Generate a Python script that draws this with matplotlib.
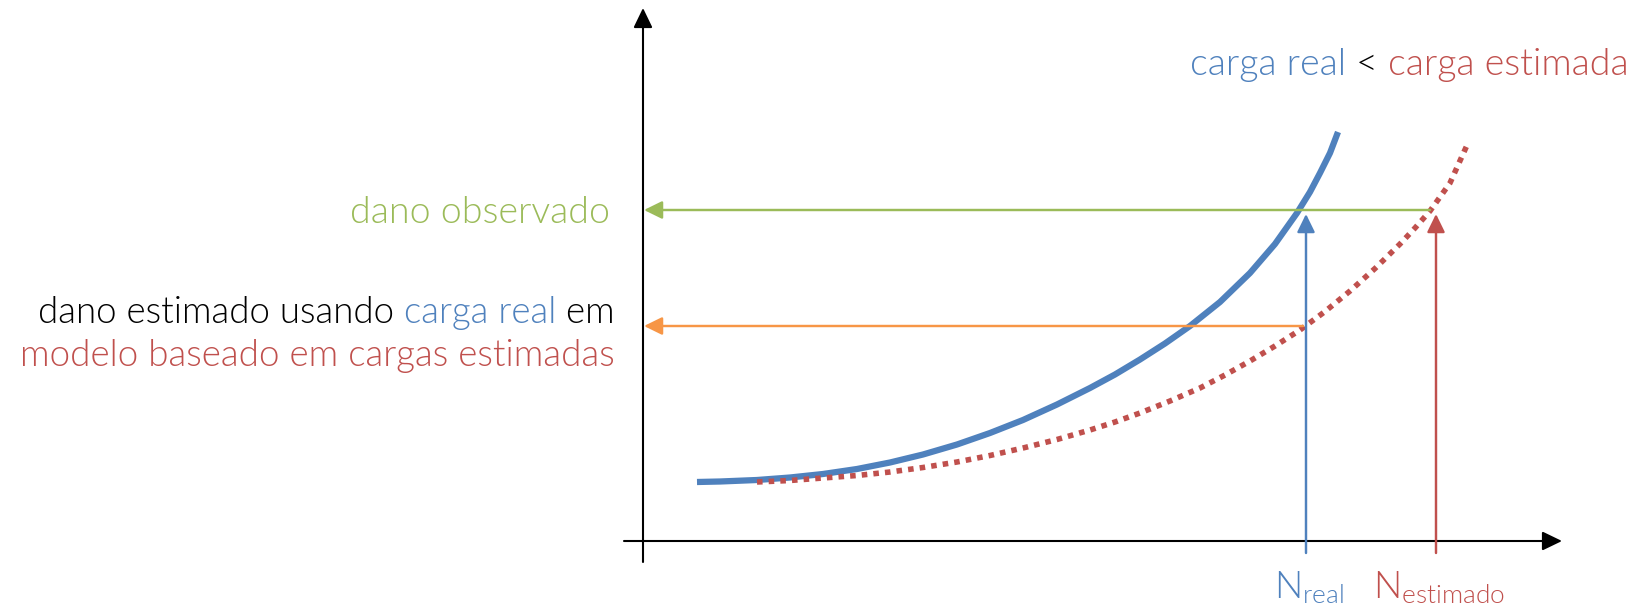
import matplotlib
matplotlib.use('Agg')
import matplotlib.pyplot as plt

# curves (abstract units, origin at the axes crossing)
real_x = [0.54, 0.77, 1.14, 1.47, 1.80, 2.14, 2.47, 2.80, 3.14, 3.47, 3.80, 4.14, 4.47,
          4.72, 4.97, 5.22, 5.47, 5.77, 6.07, 6.32, 6.54, 6.67, 6.77, 6.87, 6.95]
real_y = [0.590, 0.595, 0.610, 0.635, 0.670, 0.720, 0.785, 0.865, 0.965, 1.080, 1.210,
          1.365, 1.530, 1.665, 1.815, 1.975, 2.150, 2.390, 2.680, 2.970, 3.280, 3.490,
          3.680, 3.880, 4.090]

est_x = [1.14, 1.47, 1.80, 2.14, 2.47, 2.80, 3.14, 3.47, 3.80, 4.14, 4.47, 4.72, 4.97,
         5.27, 5.57, 5.82, 6.07, 6.32, 6.57, 6.82, 7.07, 7.32, 7.57, 7.72, 7.87, 8.07, 8.25]
est_y = [0.590, 0.605, 0.630, 0.655, 0.690, 0.735, 0.790, 0.855, 0.930, 1.015, 1.110,
         1.190, 1.280, 1.400, 1.530, 1.660, 1.800, 1.950, 2.110, 2.295, 2.500, 2.725,
         2.970, 3.130, 3.300, 3.580, 3.980]

dano_observado = 3.31
dano_estimado = 2.15
n_real = 6.63
n_estimado = 7.93

BLUE = '#4F81BD'
RED = '#C0504D'
GREEN = '#9BBB59'
ORANGE = '#F79646'

plt.rcParams['font.family'] = ['Lato', 'DejaVu Sans']
plt.rcParams['font.weight'] = 300
FS = 27

fig = plt.figure(figsize=(16.4, 6.14), dpi=100)
ax = fig.add_axes([0, 0, 1, 1])
ax.set_xlim(-6.43, 9.97)
ax.set_ylim(-0.73, 5.41)
ax.set_axis_off()

def arrow(x0, y0, x1, y1, color, lw=1.75, hl=0.55, hw=0.27):
    ax.annotate('', xy=(x1, y1), xytext=(x0, y0),
                arrowprops=dict(arrowstyle='-|>,head_length=%s,head_width=%s' % (hl, hw),
                                mutation_scale=20, lw=lw, color=color,
                                shrinkA=0, shrinkB=0))

# axes
arrow(0, -0.21, 0, 5.33, 'black', lw=1.5, hl=0.6, hw=0.29)
arrow(-0.19, 0, 9.19, 0, 'black', lw=1.5, hl=0.6, hw=0.29)

# curves
ax.plot(real_x, real_y, color=BLUE, lw=4.5, solid_capstyle='butt', solid_joinstyle='round')
ax.plot(est_x, est_y, color=RED, lw=4.0, ls=(0, (1, 1.1)), dash_capstyle='butt')

# reading arrows
arrow(n_real, -0.12, n_real, dano_observado - 0.04, BLUE)
arrow(n_estimado, -0.12, n_estimado, dano_observado - 0.04, RED)
arrow(n_estimado - 0.06, dano_observado, 0.01, dano_observado, GREEN)
arrow(n_real - 0.03, dano_estimado, 0.01, dano_estimado, ORANGE)

def chain(x, y, pieces, fs=FS):
    # right aligned pieces of text, drawn from the right end leftwards
    t = ax.text(x, y, pieces[-1][0], color=pieces[-1][1], fontsize=fs,
                ha='right', va='baseline')
    for s, c in reversed(pieces[:-1]):
        t = ax.annotate(s, xy=(0, 0), xycoords=t, color=c, fontsize=fs,
                        ha='right', va='bottom')

chain(9.86, 4.66, [('carga real', BLUE), (' < ', 'black'), ('carga estimada', RED)])
ax.text(-0.33, 3.18, 'dano observado', color=GREEN, fontsize=FS, ha='right', va='baseline')
chain(-0.28, 2.18, [('dano estimado usando ', 'black'), ('carga real', BLUE), (' em', 'black')],
      fs=26.4)
ax.text(-0.28, 1.75, 'modelo baseado em cargas estimadas', color=RED, fontsize=26.5,
        ha='right', va='baseline')

ax.text(n_real + 0.03, -0.57, r'$\mathregular{N_{real}}$', color=BLUE, fontsize=27,
        ha='center', va='baseline')
ax.text(n_estimado + 0.03, -0.57, r'$\mathregular{N_{estimado}}$', color=RED, fontsize=27,
        ha='center', va='baseline')

fig.savefig('out.png', dpi=100)
